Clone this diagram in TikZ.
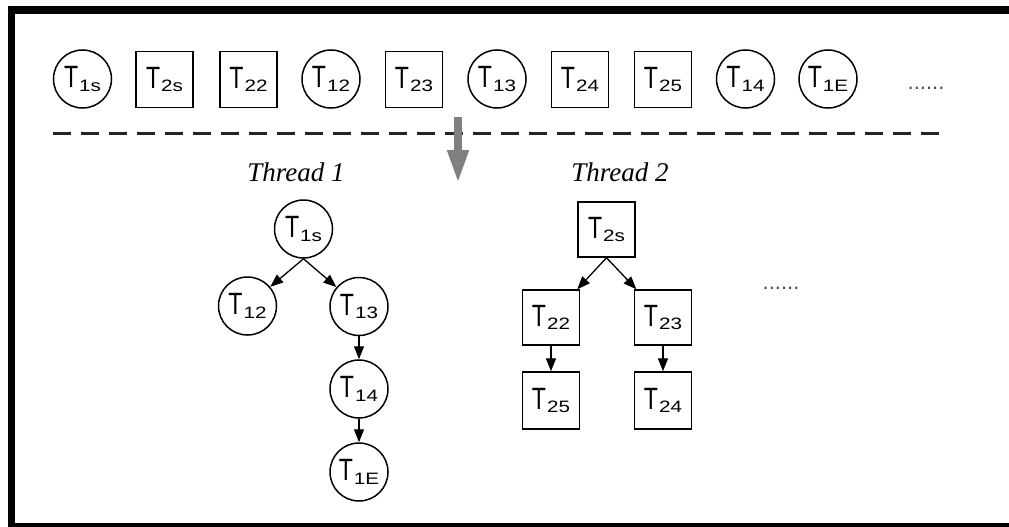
\documentclass[tikz,border=0pt]{standalone}
\usepackage{fontspec}
\setmainfont{Liberation Serif}
\setsansfont{Liberation Sans}
\newfontfamily\subfont{Liberation Sans}[FakeBold=0.8]
\usetikzlibrary{arrows.meta}
\newcommand\Tn[1]{{\sffamily\scalebox{1.05}[1.4]{\fontsize{22}{22}\selectfont T}\kern1pt\raisebox{-3.7pt}{\scalebox{1.25}[1]{\fontsize{16.5}{16.5}\selectfont #1}}}}
\tikzset{
  tc/.style={circle,draw,line width=1.5pt,minimum size=58pt,inner sep=0pt},
  tb/.style={rectangle,draw,line width=1.5pt,minimum width=57pt,minimum height=56pt,inner sep=0pt},
  edge/.style={line width=1.3pt,-{Triangle[length=13pt,width=10pt]}},
  thr/.style={font=\itshape\fontsize{27}{27}\selectfont,anchor=base},
  dots/.style={font=\sffamily\fontsize{22}{22}\selectfont,text=black!70,anchor=base,inner sep=0pt},
}
\begin{document}
\begin{tikzpicture}[x=1pt,y=-1pt]
\useasboundingbox (0,0) rectangle (1009,527);
% frame
\fill[black] (8,6) rectangle (1009,14);
\fill[black] (8,6) rectangle (15,527);
\fill[black] (8,523) rectangle (1009,527);
% top row
\node[tc] (a1) at (82.5,79) {\Tn{1s}};
\node[tb] (a2) at (164.5,79.5) {\Tn{2s}};
\node[tb] (a3) at (248.5,79.5) {\Tn{22}};
\node[tc] (a4) at (331,79) {\Tn{12}};
\node[tb] (a5) at (414,79.5) {\Tn{23}};
\node[tc] (a6) at (497,79) {\Tn{13}};
\node[tb] (a7) at (580,79.5) {\Tn{24}};
\node[tb] (a8) at (663,79.5) {\Tn{25}};
\node[tc] (a9) at (745.5,79) {\Tn{14}};
\node[tc] (a10) at (828,79) {\Tn{1E}};
\node[dots] (d1) at (926,89) {......};
% dashed separator
\coordinate (l1) at (53,133);
\coordinate (l2) at (940,133);
\draw[line width=3pt,black!85,dash pattern=on 18pt off 10pt] (l1) -- (l2);
% gray arrow
\coordinate (g1) at (458,117);
\coordinate (g2) at (458,183);
\draw[line width=7.5pt,black!50,-{Triangle[length=33pt,width=20pt]}] (g1) -- (g2);
% thread labels
\node[thr] (th1) at (296,181) {Thread 1};
\node[thr] (th2) at (620,181) {Thread 2};
% thread 1
\node[tc] (b1) at (303.5,229) {\Tn{1s}};
\node[tc] (b2) at (247.5,306) {\Tn{12}};
\node[tc] (b3) at (359,306.5) {\Tn{13}};
\node[tc] (b4) at (359,389) {\Tn{14}};
\node[tc] (b5) at (359,472) {\Tn{1E}};
\draw[edge] (b1.south) -- (b2);
\draw[edge] (b1.south) -- (b3);
\draw[edge] (b3) -- (b4);
\draw[edge] (b4) -- (b5);
% thread 2
\node[tb,minimum height=55pt] (c1) at (606.5,229.5) {\Tn{2s}};
\node[tb,minimum height=55pt] (c2) at (551,317.5) {\Tn{22}};
\node[tb,minimum height=55pt] (c3) at (663,317.5) {\Tn{23}};
\node[tb,minimum height=57pt] (c4) at (551,400.5) {\Tn{25}};
\node[tb,minimum height=57pt] (c5) at (663,400.5) {\Tn{24}};
\draw[edge] (c1.south) -- (c2);
\draw[edge] (c1.south) -- (c3);
\draw[edge] (c2) -- (c4);
\draw[edge] (c3) -- (c5);
\node[dots] (d2) at (781,289) {......};
\end{tikzpicture}
\end{document}
